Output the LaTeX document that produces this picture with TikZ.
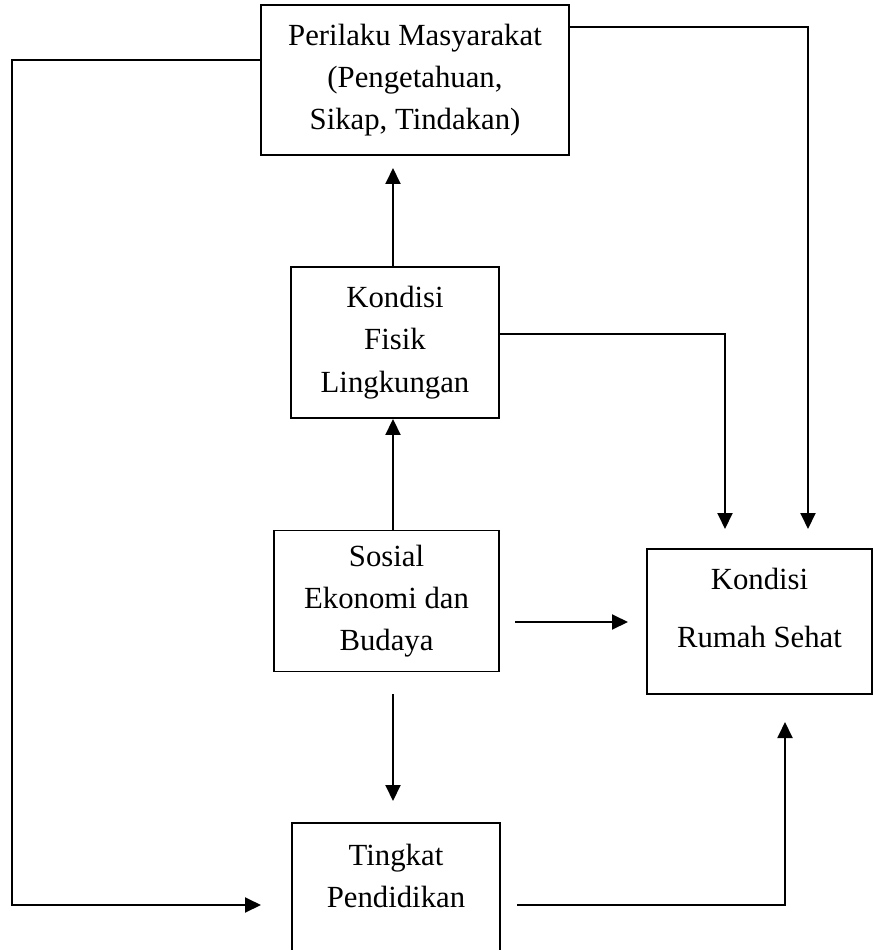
\documentclass[tikz,border=0pt]{standalone}
\usepackage{fontspec}
\setmainfont{Liberation Serif}
\usetikzlibrary{arrows.meta}
\tikzset{
  teks/.style={align=center, inner sep=0pt, font=\fontsize{17.5}{24}\selectfont},
  kotak/.style={teks, draw, line width=1.1pt},
  garis/.style={line width=1.1pt},
  panah/.style={garis, -{Triangle[length=0.32cm,width=0.3cm]}}
}
\begin{document}
\begin{tikzpicture}[x=0.02cm, y=-0.02cm]
\clip (0,0) rectangle (873,950);
% kotak-kotak
\node[kotak, minimum width=6.16cm, minimum height=3cm] (perilaku) at (415,80)
  {Perilaku Masyarakat\\(Pengetahuan,\\Sikap, Tindakan)};
\node[kotak, minimum width=4.16cm, minimum height=3.02cm] (fisik) at (395,342.5)
  {Kondisi\\Fisik\\Lingkungan};
\node[kotak, minimum width=4.5cm, minimum height=2.82cm] (sosial) at (386.5,601)
  {Sosial\\Ekonomi dan\\Budaya};
\node[kotak, minimum width=4.5cm, minimum height=2.9cm] (rumah) at (759.5,621.5) {};
\node[teks] (rumahteks) at (759.5,608) {Kondisi\\[0.3cm]Rumah Sehat};
\node[kotak, minimum width=4.16cm, minimum height=2.9cm] (tingkat) at (396,895.5) {};
\node[teks] (tingkatteks) at (396,876) {Tingkat\\Pendidikan};

% ujung bebas
\coordinate (u1) at (808,529);
\coordinate (u2) at (725,529);
\coordinate (u3) at (261,905);
\coordinate (u4) at (785,722);

% panah
\draw[panah] (perilaku.east |- 0,27) -| (u1);
\draw[panah] (perilaku.west |- 0,60) -- (12,60) -- (12,905) -- (u3);
\draw[panah] (fisik.north -| 393,0) -- (393,168);
\draw[panah] (fisik.east |- 0,334) -| (u2);
\draw[panah] (sosial.north -| 393,0) -- (fisik.south -| 393,0);
\draw[panah] (515,622) -- (628,622);
\draw[panah] (393,694) -- (393,801);
\draw[panah] (517,905) -| (u4);
\end{tikzpicture}
\end{document}
